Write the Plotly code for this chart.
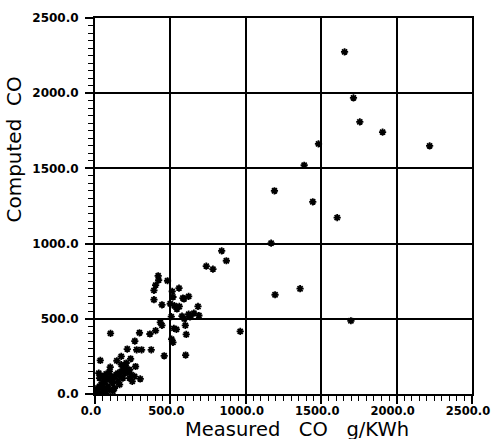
import plotly.graph_objects as go

# Measured vs computed CO emissions (g/KWh)
measured = [
    1655, 1714, 1756, 1907, 2219, 1482, 1387, 1190, 1444, 1606,
    1168, 1194, 1360, 1697, 963,
    840, 871, 738, 782, 419, 422, 481, 402, 391, 557,
    512, 517, 583, 590, 621, 391, 444, 499, 526, 543,
    559, 683, 656, 621, 689, 577, 506, 630, 433, 444,
    364, 402, 295, 103, 523, 540, 599, 592, 605, 508,
    517, 264, 309, 373, 276, 214, 459, 601, 35, 174,
    236, 145, 269, 101, 300,
    8, 19, 30, 41, 52, 63, 74, 85, 96, 107,
    118, 129, 141, 152, 163, 174, 185, 196, 207, 218,
    229, 240, 196, 174, 207, 185, 152, 118, 85, 63,
    30, 25, 52, 74, 96, 229, 247, 262, 163, 129,
    96, 52, 19, 3, 30, 74, 118, 5, 10, 12, 3,
]
computed = [
    2275, 1969, 1809, 1741, 1650, 1663, 1521, 1351, 1278, 1173,
    1003, 660, 700, 487, 416,
    952, 886, 850, 830, 786, 757, 753, 724, 689, 704,
    682, 645, 638, 632, 649, 627, 593, 600, 587, 565,
    582, 582, 538, 531, 522, 518, 514, 512, 476, 456,
    399, 421, 407, 403, 436, 430, 456, 500, 396, 365,
    343, 352, 294, 294, 294, 299, 254, 259, 223, 250,
    234, 221, 183, 179, 100,
    18, 40, 51, 62, 73, 84, 95, 106, 95, 117,
    106, 117, 128, 139, 117, 150, 161, 139, 173, 150,
    161, 128, 184, 195, 206, 106, 84, 73, 51, 40,
    106, 139, 117, 133, 150, 106, 84, 117, 62, 40,
    29, 18, 5, 2, 5, 6, 18, 2, 8, 20, 10,
]

tick_vals = [0, 500, 1000, 1500, 2000, 2500]
tick_text = ["0.0", "500.0", "1000.0", "1500.0", "2000.0", "2500.0"]

fig = go.Figure(
    go.Scatter(
        x=measured,
        y=computed,
        mode="markers",
        marker=dict(
            symbol="asterisk-open",
            size=6,
            color="black",
            line=dict(width=1.8, color="black"),
        ),
        hoverinfo="x+y",
    )
)

axis_common = dict(
    range=[0, 2500],
    tickvals=tick_vals,
    ticktext=tick_text,
    ticks="outside",
    ticklen=8,
    tickwidth=1.5,
    tickcolor="black",
    minor=dict(dtick=50, ticks="outside", ticklen=5, tickwidth=1.2,
               tickcolor="black", showgrid=False),
    showgrid=True,
    gridcolor="black",
    gridwidth=2,
    showline=True,
    linecolor="black",
    linewidth=2,
    mirror=True,
    zeroline=False,
    automargin=False,
    ticklabeloverflow="allow",
)

fig.update_xaxes(
    **axis_common,
    ticklabelstandoff=-3,
    ticklabelshift=-4,
    tickfont=dict(family="DejaVu Sans", size=11.5, color="black", weight="bold"),
)
fig.update_yaxes(
    **axis_common,
    ticklabelstandoff=4,
    tickfont=dict(family="DejaVu Sans", size=12, color="black", weight="bold"),
)

fig.update_layout(
    width=491,
    height=440,
    margin=dict(l=95, r=19, t=18, b=46),
    paper_bgcolor="white",
    plot_bgcolor="white",
    showlegend=False,
    annotations=[
        dict(
            text="Measured   CO   g/KWh",
            xref="paper", yref="paper",
            x=0.535, y=-0.094,
            xanchor="center", yanchor="middle",
            height=19,
            showarrow=False,
            font=dict(family="DejaVu Sans", size=19.5, color="black"),
        ),
        dict(
            text="Computed  CO",
            xref="paper", yref="paper",
            x=-0.215, y=0.65,
            xanchor="center", yanchor="middle",
            textangle=-90,
            showarrow=False,
            font=dict(family="DejaVu Sans", size=20, color="black"),
        ),
    ],
)

fig.write_html("out.html")
